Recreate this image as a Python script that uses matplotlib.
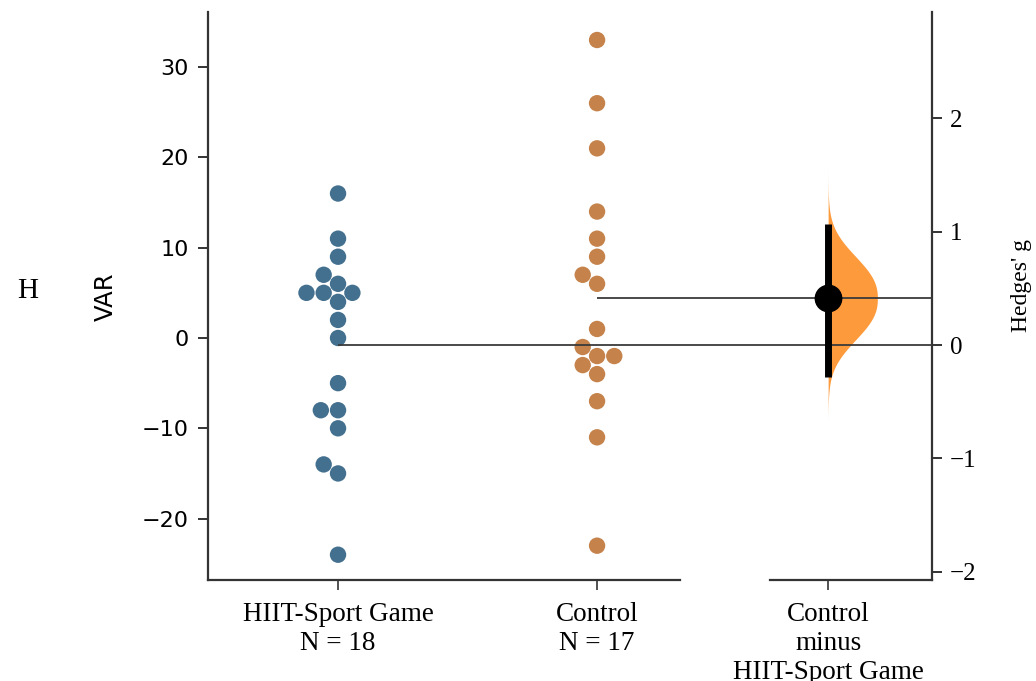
import numpy as np
import pandas as pd
import matplotlib
matplotlib.use("Agg")
import matplotlib.pyplot as plt
import matplotlib.transforms as mtransforms
import seaborn as sns

groups = ["HIIT-Sport Game", "Control"]
hiit = [16, 11, 9, 7, 6, 5, 5, 5, 4, 2, 0, -5, -8, -8, -10, -14, -15, -24]
control = [33, 26, 21, 14, 11, 9, 7, 6, 1, -1, -2, -2, -3, -4, -7, -11, -23]
ci_low, ci_high = -0.28, 1.07      # 95% CI of Hedges' g (bootstrap)
boot_low, boot_high = -0.65, 1.60  # extent of the bootstrap distribution
tick_labels = ["HIIT-Sport Game\nN = 18", "Control\nN = 17",
               "Control\nminus\nHIIT-Sport Game"]
colors = ["#44708f", "#c5834b"]
violin_color = "#fd9a3c"
serif = "Liberation Serif"


def hedges_g(a, b):
    a = np.asarray(a, float)
    b = np.asarray(b, float)
    na, nb = len(a), len(b)
    sp = np.sqrt(((na - 1) * a.var(ddof=1) + (nb - 1) * b.var(ddof=1)) / (na + nb - 2))
    d = (b.mean() - a.mean()) / sp
    return d * (1 - 3 / (4 * (na + nb) - 9))


df = pd.DataFrame({"group": [groups[0]] * len(hiit) + [groups[1]] * len(control),
                   "value": hiit + control})
m_hiit = np.mean(hiit)
m_ctrl = np.mean(control)
g = hedges_g(hiit, control)

fig = plt.figure(figsize=(10.36, 6.81), dpi=100)
ax = fig.add_axes([208 / 1036, 1 - 580 / 681, 724 / 1036, 568 / 681])

sns.swarmplot(data=df, x="group", y="value", order=groups, hue="group",
              hue_order=groups, palette=colors, size=11.8, ax=ax, legend=False,
              linewidth=0)

x_delta = 1.892
xlim = (-0.502, 2.293)
ylim = (-26.8, 36.1)
ax.set_xlim(*xlim)
ax.set_ylim(*ylim)
ax.set_xlabel("")
ax.set_ylabel("")

# effect size axis, aligned so that 0 sits on the HIIT mean
ax2 = ax.twinx()
scale = (m_ctrl - m_hiit) / g
ax2.set_ylim((ylim[0] - m_hiit) / scale, (ylim[1] - m_hiit) / scale)
ax2.set_xlim(*xlim)

# bootstrap distribution as a half violin
sd = (ci_high - ci_low) / (2 * 1.96)
gy = np.linspace(boot_low, boot_high, 300)
dens = np.exp(-0.5 * np.abs((gy - g) / sd) ** 2.4)
ax2.fill_betweenx(gy, x_delta, x_delta + 0.19 * dens, color=violin_color, lw=0)

ax2.hlines(0, 0, xlim[1], color="#3a3a3a", lw=1.3, zorder=3)
ax2.hlines(g, 1, xlim[1], color="#3a3a3a", lw=1.3, zorder=3)
ax2.vlines(x_delta, ci_low, ci_high, color="black", lw=5, zorder=4)
ax2.plot([x_delta], [g], "o", color="black", ms=19, zorder=5)

for a in (ax, ax2):
    for s in ("top", "bottom"):
        a.spines[s].set_visible(False)
ax.spines["right"].set_visible(False)
ax2.spines["left"].set_visible(False)
ax.spines["left"].set_linewidth(1.6)
ax.spines["left"].set_color("#333333")
ax2.spines["right"].set_linewidth(1.6)
ax2.spines["right"].set_color("#333333")

# broken bottom axis line
trans = mtransforms.blended_transform_factory(ax.transData, ax.transAxes)
ax.plot([xlim[0], 1.32], [0, 0], color="#333333", lw=1.6, transform=trans, clip_on=False)
ax.plot([1.668, xlim[1]], [0, 0], color="#333333", lw=1.6, transform=trans, clip_on=False)

ax.set_xticks([0, 1, x_delta])
ax.set_xticklabels(tick_labels, fontfamily=serif, fontsize=19.5, linespacing=1.2)
ax.set_yticks([-20, -10, 0, 10, 20, 30])
ax.tick_params(axis="y", labelsize=16, length=7, width=1.4, color="#333333", pad=7)
ax.tick_params(axis="x", length=7, width=1.2, color="#333333", pad=9)
ax2.set_yticks([-2, -1, 0, 1, 2])
for t in ax2.get_yticklabels():
    t.set_fontfamily(serif)
ax2.tick_params(axis="y", labelsize=18, length=7, width=1.4, color="#333333", pad=6)

fig.text(106 / 1036, 1 - 297 / 681, "VAR", rotation=90, ha="center", va="center",
         fontsize=17.5)
fig.text(1021 / 1036, 1 - 286 / 681, "Hedges' g", rotation=90, ha="center",
         va="center", fontsize=17, fontfamily=serif)
fig.text(28 / 1036, 1 - 291 / 681, "H", ha="center", va="center", fontsize=21,
         fontfamily=serif)

fig.savefig("out.png", dpi=100)
